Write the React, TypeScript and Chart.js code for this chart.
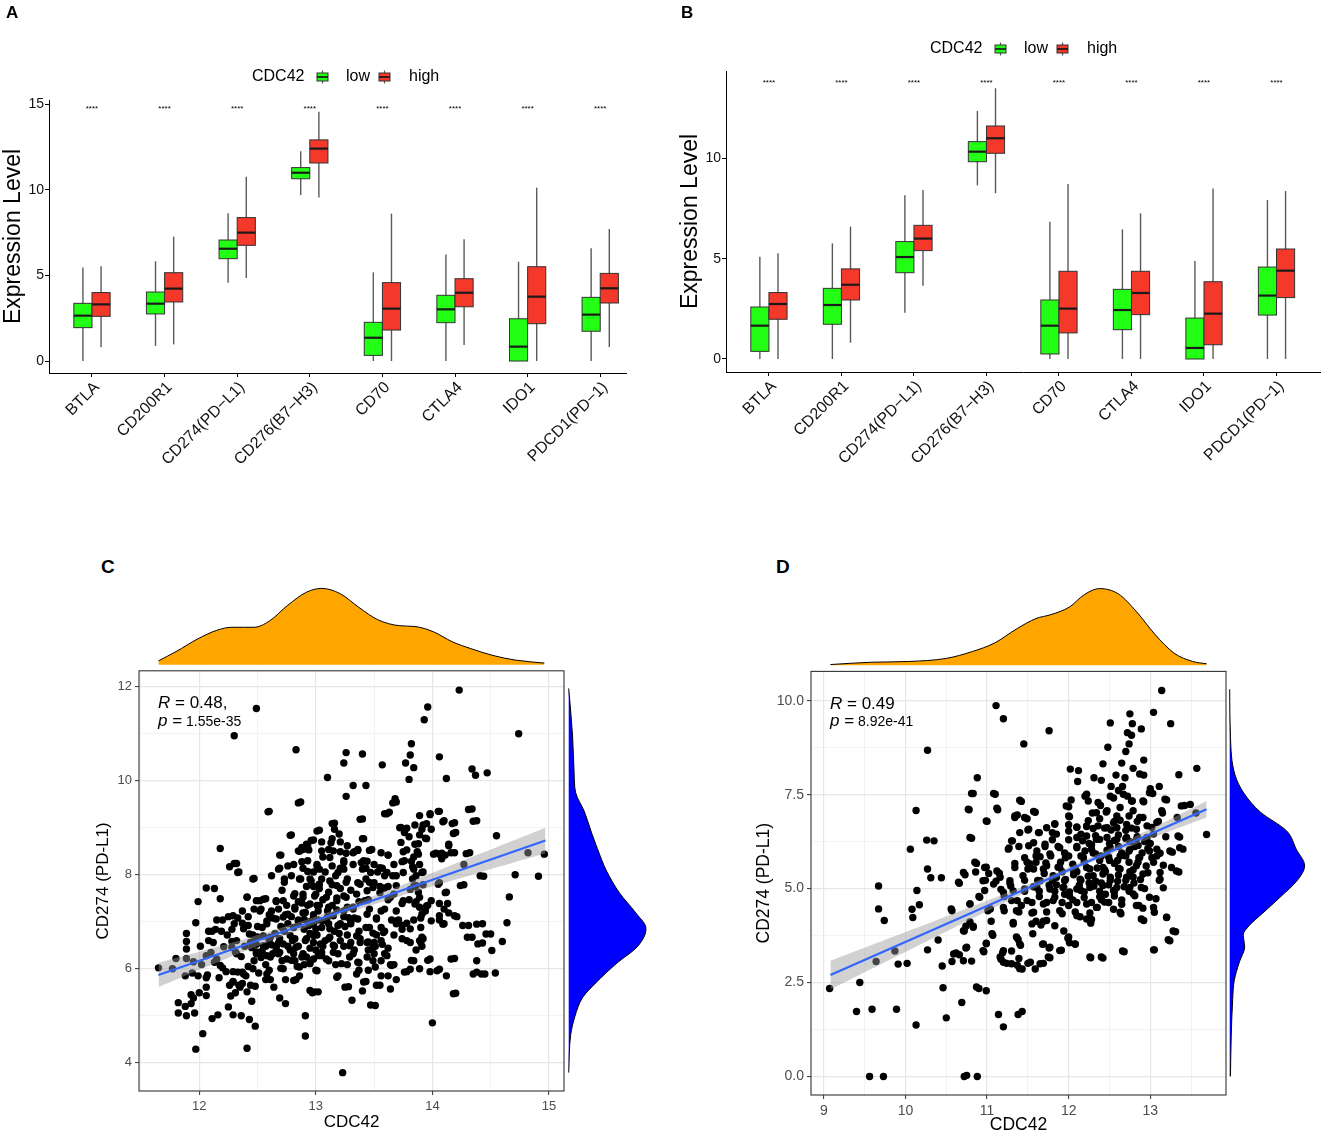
import React, { useEffect, useRef } from 'react';
import { Chart, registerables } from 'chart.js';

Chart.register(...registerables);

const FONT = '"Liberation Sans", Arial, Helvetica, sans-serif';
const LOW_COLOR = '#22FF14';
const HIGH_COLOR = '#F4382A';

// ---------------- Panels A & B ----------------
const categories = ['BTLA', 'CD200R1', 'CD274(PD\u2212L1)', 'CD276(B7\u2212H3)', 'CD70', 'CTLA4', 'IDO1', 'PDCD1(PD\u22121)'];
const sigLabels = ['****', '****', '****', '****', '****', '****', '****', '****'];
const categoryTicks = [0, 1, 2, 3, 4, 5, 6, 7];
const aYTicks = [0, 5, 10, 15];
const bYTicks = [0, 5, 10];

// Panel A (low / high CDC42): whisker min, Q1, median, Q3, whisker max
const aLowMin = [0, 0.88, 4.58, 9.7, 0, 0, 0, 0];
const aLowQ1 = [1.95, 2.75, 5.98, 10.65, 0.33, 2.24, 0, 1.74];
const aLowMed = [2.65, 3.35, 6.56, 11.0, 1.36, 3.02, 0.84, 2.71];
const aLowQ3 = [3.37, 4.03, 7.07, 11.3, 2.26, 3.84, 2.47, 3.72];
const aLowMax = [5.47, 5.83, 8.63, 12.25, 5.18, 6.23, 5.8, 6.59];
const aHighMin = [0.8, 0.97, 4.85, 9.55, 0, 0.94, 0, 0.82];
const aHighQ1 = [2.61, 3.45, 6.76, 11.57, 1.81, 3.17, 2.18, 3.39];
const aHighMed = [3.31, 4.23, 7.5, 12.41, 3.06, 3.99, 3.76, 4.25];
const aHighQ3 = [4.0, 5.16, 8.38, 12.92, 4.58, 4.81, 5.51, 5.12];
const aHighMax = [5.53, 7.27, 10.77, 14.57, 8.61, 7.11, 10.13, 7.71];

// Panel B
const bLowMin = [0, 0, 2.31, 8.65, 0, 0, 0, 0];
const bLowQ1 = [0.38, 1.73, 4.3, 9.83, 0.25, 1.46, 0, 2.19];
const bLowMed = [1.66, 2.69, 5.08, 10.33, 1.66, 2.44, 0.55, 3.16];
const bLowQ3 = [2.59, 3.52, 5.85, 10.83, 2.94, 3.47, 2.04, 4.58];
const bLowMax = [5.1, 5.76, 8.16, 12.36, 6.84, 6.46, 4.88, 7.92];
const bHighMin = [0, 0.81, 3.65, 8.26, 0, 0, 0, 0];
const bHighQ1 = [1.98, 2.94, 5.4, 10.25, 1.3, 2.21, 0.71, 3.06];
const bHighMed = [2.74, 3.7, 6.0, 11.0, 2.51, 3.29, 2.26, 4.4];
const bHighQ3 = [3.31, 4.49, 6.66, 11.61, 4.37, 4.37, 3.85, 5.48];
const bHighMax = [5.27, 6.6, 8.42, 13.49, 8.72, 7.26, 8.5, 8.37];

const aSigY = 14.6;
const bSigY = 13.65;

// ---------------- Panel C ----------------
const cPts: [number, number][] = [
  [14.23, 11.93], [12.49, 11.54], [13.96, 11.57], [13.93, 11.3], [12.3, 10.96], [14.74, 11.0], [12.83, 10.66], [13.26, 10.6],
  [13.4, 10.57], [13.24, 10.38], [13.82, 10.79], [13.81, 10.55], [13.77, 10.38], [13.84, 10.28], [13.57, 10.34], [14.06, 10.51],
  [13.1, 10.07], [13.8, 10.03], [14.12, 10.05], [14.34, 10.25], [14.37, 10.12], [14.47, 10.17], [13.32, 9.9], [13.43, 9.9],
  [13.26, 9.67], [12.6, 9.35], [12.87, 9.55], [13.68, 9.62], [13.69, 9.55], [13.59, 9.3], [13.63, 9.33], [13.4, 9.19],
  [13.16, 9.1], [13.03, 8.95], [12.79, 8.85], [13.98, 9.28], [13.89, 9.26], [14.05, 9.35], [14.1, 9.15], [14.19, 9.11],
  [14.34, 9.4], [14.38, 9.15], [14.55, 8.83], [14.2, 8.9], [14.14, 8.62], [14.19, 8.47], [14.32, 8.47], [14.82, 8.47],
  [14.96, 8.44], [14.71, 8.0], [14.91, 7.97], [14.44, 7.97], [14.27, 7.79], [14.66, 7.53], [14.64, 6.98], [14.43, 6.96],
  [14.31, 6.92], [14.34, 6.67], [14.5, 6.74], [14.43, 6.55], [14.6, 6.58], [14.51, 6.39], [14.19, 6.22], [14.38, 6.17],
  [14.38, 5.93], [14.45, 5.89], [14.54, 5.91], [14.2, 5.48], [14.0, 4.85], [13.98, 6.21], [14.06, 5.99], [14.12, 5.85],
  [13.98, 5.94], [13.78, 5.94], [13.81, 5.99], [13.84, 6.17], [13.64, 6.09], [13.56, 5.85], [13.64, 5.57], [13.55, 5.65],
  [13.51, 5.22], [13.47, 5.23], [13.43, 5.73], [13.4, 5.53], [13.31, 5.33], [13.28, 5.62], [13.23, 3.79], [12.91, 5.0],
  [12.91, 4.57], [12.97, 5.49], [13.02, 5.51], [12.69, 5.38], [12.74, 5.26], [12.41, 4.31], [11.97, 4.29], [12.03, 4.62],
  [12.48, 4.78], [12.43, 4.92], [12.29, 5.02], [12.36, 5.0], [12.11, 4.94], [12.16, 5.02], [11.89, 5.0], [11.82, 5.06],
  [11.82, 5.28], [11.88, 5.2], [11.93, 5.26], [11.95, 5.38], [11.96, 5.06], [12.0, 5.49], [11.93, 5.45], [12.06, 5.43],
  [12.06, 5.61], [12.06, 5.81], [12.07, 5.87], [11.88, 5.85], [11.94, 5.91], [11.95, 6.15], [11.89, 6.22], [11.8, 6.22],
  [11.65, 6.02], [11.77, 6.0], [11.89, 6.42], [11.89, 6.58], [11.89, 6.75], [11.97, 6.98], [11.99, 7.43], [12.06, 7.72],
  [12.13, 7.71], [12.08, 6.8], [12.01, 6.48], [12.08, 6.6], [12.18, 7.49], [12.18, 8.56], [12.26, 8.17], [12.32, 8.24],
  [12.34, 8.06], [12.47, 7.92], [12.41, 7.53], [12.52, 7.45], [12.57, 7.49], [12.51, 5.91], [12.48, 5.63], [12.44, 5.65],
  [12.4, 5.85], [12.45, 5.31], [12.27, 5.42], [12.26, 5.65], [12.29, 5.73], [12.31, 5.49], [12.25, 5.19], [12.34, 5.65],
  [12.37, 5.69], [12.17, 5.81], [12.18, 6.07], [12.13, 6.14], [12.1, 6.35], [12.15, 6.21], [12.2, 6.02], [12.23, 5.94],
  [12.29, 5.94], [12.33, 5.93], [12.36, 6.26], [12.31, 6.36], [12.39, 6.48], [12.21, 6.47], [12.28, 6.58], [12.24, 6.72],
  [12.19, 6.8], [12.14, 6.84], [12.11, 6.8], [12.15, 7.04], [12.25, 7.11], [12.3, 6.96], [12.37, 6.97], [12.42, 6.92],
  [12.46, 6.72], [12.5, 6.68], [12.54, 6.88], [12.58, 6.96], [12.6, 6.6], [12.49, 6.36], [12.54, 6.38], [12.57, 6.48],
  [12.62, 6.51], [12.6, 5.97], [12.61, 5.77], [12.71, 6.17], [12.7, 6.01], [12.75, 6.21], [12.74, 5.77], [12.83, 5.77],
  [12.86, 5.85], [12.84, 6.05], [12.9, 6.09], [12.95, 6.13], [13.0, 5.97], [12.98, 6.21], [13.05, 6.28], [13.11, 6.17],
  [13.17, 6.09], [13.19, 5.85], [13.27, 6.09], [13.32, 6.32], [13.37, 6.13], [13.37, 5.97], [13.45, 5.97], [13.49, 6.17],
  [13.51, 6.48], [13.57, 6.52], [13.62, 6.44], [13.59, 6.32], [13.5, 6.56], [13.44, 6.56], [13.49, 6.76], [13.43, 6.88],
  [13.59, 6.8], [13.67, 6.72], [13.67, 6.09], [13.71, 7.04], [13.78, 6.97], [13.74, 6.64], [13.84, 7.04], [13.9, 6.88],
  [13.9, 6.56], [13.92, 6.64], [13.9, 7.08], [13.94, 7.23], [13.96, 7.35], [13.89, 7.31], [13.86, 7.43], [13.8, 7.47],
  [13.88, 7.63], [13.84, 7.75], [13.92, 7.79], [14.06, 7.83], [14.12, 7.63], [14.13, 7.39], [14.06, 7.39], [14.1, 7.27],
  [14.14, 7.19], [14.21, 7.11], [14.06, 7.04], [14.1, 6.96], [13.86, 7.98], [13.83, 8.17], [13.92, 8.06], [13.84, 8.38],
  [13.76, 8.3], [13.75, 8.49], [13.73, 8.69], [13.8, 8.81], [13.73, 9.01], [13.78, 8.99], [13.87, 8.49], [13.88, 8.66],
  [13.95, 8.77], [13.91, 8.97], [13.95, 9.09], [13.99, 8.97], [14.03, 8.46], [14.08, 8.46], [14.11, 8.42], [14.08, 8.34],
  [14.27, 8.22], [13.67, 8.22], [13.62, 8.42], [13.57, 8.14], [13.53, 8.06], [13.59, 7.98], [13.5, 8.22], [13.41, 8.3],
  [13.48, 8.54], [13.41, 8.77], [13.36, 8.54], [13.33, 8.49], [13.43, 8.14], [13.43, 7.91], [13.5, 7.83], [13.55, 7.75],
  [13.62, 7.75], [13.69, 7.98], [13.67, 7.59], [13.62, 7.47], [13.59, 7.27], [13.69, 7.23], [13.74, 7.39], [13.52, 7.08],
  [13.46, 7.27], [13.45, 7.47], [13.37, 7.43], [13.32, 7.27], [13.33, 7.08], [13.3, 6.96], [13.27, 6.72], [13.3, 6.56],
  [13.24, 6.48], [13.19, 6.32], [13.16, 6.48], [13.11, 6.64], [13.16, 6.8], [13.21, 6.96], [13.24, 7.11], [13.27, 7.31],
  [13.24, 7.55], [13.3, 7.67], [13.36, 7.83], [13.27, 7.91], [13.21, 7.71], [13.18, 7.51], [13.14, 7.35], [13.1, 7.23],
  [13.08, 7.04], [13.05, 6.88], [13.01, 6.72], [12.98, 6.56], [12.95, 6.44], [12.92, 6.64], [12.9, 6.84], [12.95, 7.0],
  [12.98, 7.15], [13.01, 7.35], [13.06, 7.47], [13.11, 7.63], [13.14, 7.79], [13.17, 7.98], [13.21, 8.14], [13.24, 8.3],
  [13.26, 8.46], [13.27, 8.62], [13.21, 8.7], [13.14, 8.77], [13.16, 8.97], [13.11, 8.54], [13.06, 8.38], [13.01, 8.22],
  [12.98, 8.06], [12.95, 7.91], [12.92, 7.75], [12.89, 7.59], [12.85, 7.43], [12.82, 7.27], [12.79, 7.11], [12.76, 6.96],
  [12.73, 6.8], [12.69, 6.64], [12.66, 6.48], [12.63, 6.32], [12.76, 6.48], [12.81, 6.32], [12.85, 6.48], [12.82, 6.64],
  [12.81, 6.88], [12.85, 7.04], [12.74, 7.15], [12.68, 7.27], [12.63, 7.08], [12.66, 7.43], [12.71, 7.67], [12.73, 7.91],
  [12.79, 7.98], [12.81, 8.22], [12.69, 8.14], [12.7, 8.42], [12.86, 8.5], [12.89, 8.54], [12.93, 8.62], [12.98, 8.74],
  [12.93, 8.3], [12.89, 8.14], [12.87, 7.91], [12.98, 7.75], [13.05, 7.91], [13.08, 8.06], [13.03, 7.71], [13.0, 7.59],
  [12.93, 7.35], [12.89, 7.19], [13.02, 7.04], [13.11, 6.96], [13.0, 6.4], [13.06, 6.48], [12.82, 6.17], [12.89, 6.32],
  [12.68, 6.32], [12.57, 6.09], [12.58, 6.28], [12.53, 6.24], [12.49, 6.52], [12.44, 6.56], [12.47, 6.17], [12.42, 6.05],
  [12.37, 5.93], [12.57, 5.77], [12.64, 5.61], [12.53, 7.27], [12.47, 7.27], [12.42, 7.11], [12.37, 7.23], [12.33, 7.08],
  [12.28, 6.84], [12.2, 7.04], [12.12, 6.56], [12.06, 6.28], [12.02, 6.09], [11.99, 5.85], [13.37, 6.8], [13.38, 6.56],
  [13.45, 6.4], [13.33, 6.4], [13.5, 6.32], [13.56, 6.17], [13.62, 5.85], [13.69, 5.77], [13.56, 6.88], [13.52, 6.72],
  [13.65, 7.04], [13.69, 6.96], [13.74, 6.84], [13.81, 6.56], [13.86, 6.4], [13.91, 6.48],
  // dense core
  [12.59, 9.34], [12.85, 9.53], [13.14, 9.09], [13.38, 9.18], [13.61, 9.3], [13.66, 9.53], [12.78, 8.84], [13.01, 8.93],
  [13.2, 8.87], [13.4, 8.77], [13.05, 8.7], [13.13, 8.68], [12.96, 8.73], [12.92, 8.65], [12.88, 8.58], [12.85, 8.51],
  [12.94, 8.53], [13.05, 8.51], [13.15, 8.51], [13.21, 8.49], [13.32, 8.47], [13.36, 8.52], [13.46, 8.52], [13.56, 8.47],
  [13.62, 8.42], [13.72, 9.0], [13.76, 8.9], [13.85, 9.06], [13.92, 9.06], [13.89, 8.85], [13.94, 8.78], [13.85, 8.65],
  [13.78, 8.53], [13.88, 8.44], [13.98, 9.3], [14.06, 9.35], [14.09, 9.13], [14.17, 9.09], [14.18, 8.88], [14.14, 8.65],
  [14.01, 8.44], [14.06, 8.44], [14.16, 8.47], [14.31, 9.39], [14.35, 9.14], [14.29, 8.45], [12.69, 8.42], [12.76, 8.19],
  [12.68, 8.12], [12.88, 8.28], [12.93, 8.07], [13.01, 8.19], [13.03, 8.12], [13.12, 8.37], [13.14, 8.19], [13.19, 8.05],
  [13.24, 8.26], [13.24, 8.12], [13.32, 8.22], [13.39, 8.26], [13.44, 8.29], [13.4, 8.12], [13.47, 8.05], [13.55, 8.15],
  [13.61, 8.05], [13.66, 7.98], [13.74, 8.28], [13.82, 8.29], [13.89, 8.22], [13.84, 8.12], [13.91, 8.05], [13.75, 8.05],
  [13.83, 7.91], [12.46, 7.91], [12.33, 8.05], [12.3, 8.24], [12.62, 7.98], [12.73, 7.84], [12.86, 7.91], [12.96, 7.87],
  [13.03, 7.8], [13.12, 7.87], [13.18, 7.77], [13.26, 7.84], [13.38, 7.8], [13.46, 7.84], [13.49, 7.73], [13.59, 7.72],
  [13.69, 7.77], [13.81, 7.69], [13.86, 7.77], [13.89, 7.52], [13.75, 7.45], [13.64, 7.52], [13.55, 7.62], [13.44, 7.66],
  [13.35, 7.59], [13.26, 7.52], [13.18, 7.45], [13.09, 7.52], [12.99, 7.55], [12.89, 7.52], [12.81, 7.55], [12.72, 7.45],
  [12.66, 7.45], [12.55, 7.48], [12.49, 7.45], [12.41, 7.52], [14.05, 7.8], [14.11, 7.62], [14.24, 7.77], [14.41, 7.98],
  [13.99, 7.45], [12.29, 7.13], [12.38, 6.85], [12.43, 6.74], [12.52, 7.23], [12.58, 7.02], [12.62, 7.23], [12.66, 7.06],
  [12.71, 6.88], [12.76, 7.16], [12.82, 7.31], [12.85, 7.02], [12.91, 7.2], [12.95, 7.38], [12.94, 6.92], [12.98, 7.09],
  [13.02, 7.23], [13.06, 7.02], [13.11, 7.31], [13.15, 7.13], [13.19, 6.92], [13.24, 7.23], [13.28, 7.09], [13.32, 7.31],
  [13.36, 7.06], [13.42, 7.45], [13.44, 7.16], [13.46, 6.88], [13.52, 7.06], [13.56, 7.23], [13.69, 7.02], [13.74, 6.92],
  [13.81, 6.85], [13.85, 7.38], [13.95, 7.34], [13.91, 7.16], [13.99, 7.02], [14.06, 7.13], [14.09, 6.95], [14.19, 7.13],
  [14.26, 6.92], [14.38, 6.95], [13.91, 6.67], [13.89, 6.6], [13.78, 6.6], [13.58, 6.77], [13.56, 6.6], [13.49, 6.46],
  [13.45, 6.57], [13.38, 6.64], [13.29, 6.49], [13.21, 6.6], [13.12, 6.67], [13.04, 6.53], [12.98, 6.71], [12.91, 6.6],
  [12.83, 6.46], [12.78, 6.71], [12.72, 6.53], [12.66, 6.42], [12.61, 6.67], [12.55, 6.49], [12.48, 6.64], [12.32, 6.6],
  [12.28, 6.46], [14.3, 6.67], [14.39, 6.53], [14.46, 6.74], [12.32, 6.32], [12.49, 6.32], [12.61, 6.25], [12.69, 6.35],
  [12.79, 6.18], [12.88, 6.25], [12.95, 6.11], [13.02, 6.28], [13.09, 6.21], [13.15, 6.35], [13.22, 6.11], [13.29, 6.25],
  [13.36, 6.14], [13.44, 6.25], [13.51, 6.04], [13.61, 6.28], [13.65, 6.07], [13.76, 5.93], [13.82, 6.18], [13.89, 6.0],
  [13.96, 6.18], [14.04, 5.96], [14.16, 6.21], [14.35, 5.89], [14.42, 5.89], [12.38, 5.89], [12.46, 6.0], [12.58, 5.89],
  [12.72, 6.0], [12.81, 5.75], [12.86, 6.04], [13.01, 5.96], [13.18, 5.82], [13.25, 5.61], [13.35, 5.89], [13.41, 5.72],
  [13.52, 5.65], [12.95, 5.54], [12.99, 5.51], [14.18, 5.47], [12.29, 5.72], [12.35, 5.61], [12.41, 5.51],
  [12.7, 6.9], [12.8, 6.6], [12.9, 7.05], [13.0, 6.85], [13.1, 7.1], [13.2, 6.75], [13.05, 6.35], [12.95, 6.75],
  [12.85, 6.95], [12.75, 7.35], [12.65, 6.75], [12.6, 7.15], [13.15, 6.5], [13.25, 6.9], [12.92, 6.25], [13.12, 6.85],
  [12.88, 7.4], [12.78, 6.4], [12.55, 6.7], [12.98, 6.95], [13.08, 6.6], [13.18, 7.25], [12.72, 7.1], [12.82, 7.6],
  [13.03, 7.35], [12.68, 6.55], [12.5, 6.9], [12.45, 6.45], [13.3, 7.0], [13.35, 6.7],
];
const cTopX = [11.65, 11.8, 11.99, 12.15, 12.28, 12.38, 12.47, 12.6, 12.76, 12.92, 13.05, 13.21, 13.37, 13.53, 13.72, 13.85, 14.01, 14.17, 14.33, 14.52, 14.71, 14.96];
const cTopH = [0.05, 0.17, 0.34, 0.45, 0.49, 0.49, 0.49, 0.57, 0.78, 0.95, 1.0, 0.93, 0.75, 0.59, 0.51, 0.5, 0.43, 0.3, 0.21, 0.12, 0.06, 0.02];
const cRightY = [3.79, 4.58, 4.98, 5.38, 5.69, 6.09, 6.48, 6.84, 7.19, 7.59, 8.06, 8.54, 8.85, 9.33, 9.72, 10.13, 10.92, 11.93];
const cRightW = [0.0, 0.025, 0.08, 0.18, 0.35, 0.61, 0.9, 1.0, 0.86, 0.66, 0.49, 0.37, 0.3, 0.2, 0.09, 0.07, 0.05, 0.0];
const cFitX = [11.65, 14.97];
const cFitY = [5.87, 8.73];
const cBandX = [11.65, 12.2, 12.8, 13.2, 13.6, 14.2, 14.97];
const cBandLo = [5.61, 6.18, 6.77, 7.13, 7.45, 7.9, 8.46];
const cBandHi = [6.13, 6.5, 6.95, 7.29, 7.65, 8.24, 9.0];

// ---------------- Panel D ----------------
const dPts: [number, number][] = [
  [13.14, 10.27], [11.11, 9.87], [11.2, 9.52], [13.04, 9.69], [12.75, 9.65], [13.25, 9.39], [12.51, 9.41], [12.78, 9.39],
  [12.89, 9.25], [11.76, 9.2], [12.72, 9.15], [12.77, 9.08], [12.74, 8.85], [11.45, 8.85], [12.48, 8.76], [10.27, 8.68],
  [12.7, 8.65], [12.65, 8.34], [12.42, 8.32], [12.92, 8.42], [12.02, 8.18], [12.12, 8.14], [13.57, 8.2], [12.79, 8.2],
  [12.87, 8.05], [12.92, 8.02], [13.35, 8.03], [12.58, 8.02], [12.69, 7.95], [12.31, 7.95], [12.4, 7.88], [12.11, 7.85],
  [10.88, 7.95], [12.66, 7.72], [12.52, 7.72], [13.11, 7.72], [13.0, 7.66], [13.03, 7.53], [10.83, 7.53], [11.1, 7.51],
  [12.22, 7.51], [12.61, 7.61], [12.72, 7.46], [12.55, 7.41], [12.78, 7.33], [12.92, 7.31], [13.2, 7.36], [11.42, 7.32],
  [12.03, 7.36], [12.24, 7.33], [13.42, 7.21], [12.39, 7.21], [12.63, 7.16], [12.0, 7.18], [10.13, 7.08], [10.78, 7.1],
  [11.13, 7.1], [13.15, 7.01], [13.56, 7.01], [12.29, 7.01], [12.46, 7.04], [11.59, 7.03], [12.01, 6.91], [12.74, 6.93],
  [12.91, 6.89], [13.33, 6.89], [11.34, 6.89], [11.37, 6.96], [11.49, 6.86], [11.0, 6.79], [12.56, 6.79], [13.1, 6.79],
  [11.83, 6.73], [12.1, 6.63], [12.22, 6.65], [12.44, 6.61], [12.77, 6.61], [13.02, 6.63], [10.26, 6.29], [10.35, 6.27],
  [10.81, 6.34], [13.69, 6.44], [13.36, 6.37], [13.19, 6.38], [11.31, 6.27], [11.5, 6.56], [11.64, 6.49], [11.8, 6.49],
  [12.0, 6.53], [13.4, 6.05], [13.27, 5.97], [10.06, 6.05], [11.27, 6.08], [11.39, 6.12], [11.57, 6.22], [11.71, 6.12],
  [11.87, 6.12], [12.1, 6.12], [12.28, 6.17], [12.61, 6.12], [12.81, 6.12], [12.97, 6.07], [13.12, 5.94], [13.02, 5.82],
  [12.86, 5.82], [12.7, 5.87], [12.49, 5.84], [12.33, 5.92], [12.15, 5.87], [11.96, 5.82], [11.78, 5.87], [11.6, 5.87],
  [11.46, 5.82], [11.34, 5.67], [10.87, 5.67], [10.99, 5.57], [10.27, 5.52], [13.16, 5.62], [13.35, 5.44], [11.5, 5.52],
  [11.69, 5.52], [11.87, 5.57], [12.08, 5.54], [12.26, 5.52], [12.44, 5.5], [12.61, 5.54], [12.79, 5.5], [12.97, 5.42],
  [10.73, 5.37], [10.86, 5.44], [11.02, 5.4], [11.15, 5.41], [10.31, 5.29], [10.44, 5.29], [11.11, 5.2], [10.98, 5.22],
  [10.66, 5.14], [11.28, 5.14], [11.46, 5.22], [11.62, 5.22], [11.8, 5.22], [11.96, 5.24], [12.15, 5.22], [12.33, 5.2],
  [12.51, 5.22], [12.7, 5.22], [12.88, 5.24], [13.11, 5.22], [13.16, 5.02], [9.67, 5.07], [10.14, 4.95], [10.97, 4.95],
  [11.17, 4.98], [11.29, 5.07], [12.93, 5.0], [11.46, 4.93], [11.64, 4.93], [11.83, 4.93], [12.01, 4.91], [12.19, 4.91],
  [12.38, 4.93], [12.56, 4.91], [12.74, 4.93], [12.81, 4.81], [10.9, 4.79], [11.21, 4.79], [11.37, 4.68], [11.55, 4.63],
  [11.73, 4.63], [11.92, 4.63], [12.1, 4.63], [12.28, 4.63], [12.49, 4.63], [12.65, 4.58], [12.86, 4.55], [13.07, 4.73],
  [10.17, 4.57], [10.79, 4.59], [9.67, 4.46], [10.08, 4.45], [10.57, 4.41], [11.01, 4.41], [12.91, 4.48], [12.64, 4.33],
  [13.05, 4.37], [13.2, 4.23], [12.26, 4.35], [12.08, 4.38], [11.92, 4.33], [11.73, 4.38], [11.55, 4.35], [11.39, 4.38],
  [11.21, 4.41], [10.09, 4.23], [12.14, 4.25], [12.28, 4.18], [12.27, 4.08], [9.74, 4.15], [12.92, 4.15], [11.6, 4.13],
  [11.69, 4.13], [11.73, 4.15], [11.05, 4.13], [10.79, 4.11], [10.74, 4.0], [10.83, 4.0], [11.32, 4.06], [11.66, 4.03],
  [11.83, 4.01], [13.31, 3.85], [10.72, 3.87], [11.56, 3.8], [11.94, 3.87], [11.07, 3.76], [10.4, 3.63], [11.38, 3.65],
  [13.24, 3.61], [11.99, 3.68], [10.99, 3.55], [12.01, 3.56], [12.08, 3.52], [11.41, 3.49], [11.68, 3.52], [11.76, 3.42],
  [10.74, 3.42], [10.27, 3.37], [13.05, 3.37], [10.96, 3.32], [12.68, 3.32], [11.91, 3.36], [9.87, 3.34], [10.62, 3.29],
  [10.66, 3.24], [11.19, 3.29], [11.3, 3.34], [11.17, 3.12], [11.39, 3.14], [12.27, 3.16], [12.42, 3.15], [11.77, 3.16],
  [9.64, 3.06], [10.02, 3.01], [9.91, 2.99], [10.57, 3.06], [10.71, 3.08], [10.81, 3.07], [11.24, 3.01], [11.5, 3.01],
  [11.69, 3.01], [10.45, 2.94], [11.37, 2.96], [11.43, 2.86], [11.59, 2.86], [9.07, 2.34], [9.44, 2.5], [10.46, 2.36],
  [10.9, 2.34], [10.99, 2.28], [10.69, 1.97], [9.4, 1.73], [9.59, 1.79], [9.89, 1.79], [10.5, 1.56], [11.14, 1.65],
  [11.38, 1.65], [11.43, 1.73], [10.13, 1.37], [11.2, 1.32], [9.56, 0.0], [9.73, 0.0], [10.72, 0.0], [10.75, 0.03],
  [10.88, 0.0], [12.33, 6.41], [12.61, 6.43], [12.84, 6.38], [12.19, 5.71], [12.38, 5.75], [12.56, 5.67], [12.74, 5.7],
  [12.06, 5.37], [12.24, 5.33], [12.42, 5.39], [12.61, 5.36], [12.79, 5.31], [12.31, 5.07], [12.49, 5.1], [12.68, 5.05],
  [12.13, 5.09], [11.94, 5.04], [11.76, 5.09], [11.57, 5.05], [12.38, 4.78], [12.56, 4.8], [12.19, 4.76], [12.01, 4.8],
  [11.83, 4.77], [11.64, 4.79], [12.47, 6.02], [12.74, 6.0], [12.38, 6.31], [12.56, 6.28], [12.7, 6.33], [12.24, 6.81],
  [12.38, 6.86], [12.63, 6.82], [12.84, 6.79], [11.95, 5.95], [11.52, 5.66], [11.72, 5.68], [11.92, 5.45], [12.17, 6.27],
  [12.52, 6.56], [12.93, 6.25], [13.08, 6.05], [12.35, 4.5], [12.55, 4.45], [11.85, 5.3], [12.0, 6.3], [11.42, 4.55],
  // dense core
  [10.81, 7.53], [11.08, 7.53], [11.4, 7.35], [10.77, 7.11], [11.12, 7.14], [10.99, 6.8], [11.34, 6.93], [11.46, 6.89],
  [11.57, 7.05], [10.79, 6.36], [11.4, 6.49], [11.51, 6.58], [11.63, 6.49], [11.73, 6.62], [11.83, 6.71], [11.85, 6.45],
  [11.97, 7.2], [12.0, 6.93], [12.1, 6.64], [12.2, 7.46], [12.22, 6.67], [12.34, 7.02], [12.36, 7.29], [12.47, 7.07],
  [12.51, 7.46], [12.59, 6.93], [12.67, 7.51], [12.77, 7.33], [12.79, 7.07], [12.87, 6.89], [12.91, 7.33], [12.99, 7.55],
  [13.14, 7.07], [13.18, 7.38], [13.38, 7.2], [13.49, 7.24], [12.36, 6.67], [12.47, 6.62], [12.59, 6.62], [12.71, 6.71],
  [12.83, 6.58], [12.96, 6.67], [13.08, 6.76], [13.34, 6.4], [12.1, 6.36], [12.22, 6.4], [12.34, 6.31], [12.47, 6.36],
  [12.59, 6.31], [12.71, 6.36], [12.83, 6.31], [12.96, 6.36], [13.04, 6.45], [11.3, 6.27], [11.26, 6.05], [11.51, 6.14],
  [11.61, 6.0], [11.71, 6.18], [11.77, 5.92], [11.89, 6.09], [12.0, 5.87], [12.1, 6.09], [12.18, 5.83], [12.28, 6.05],
  [12.4, 5.87], [12.51, 6.09], [12.63, 5.87], [12.75, 6.05], [12.87, 5.83], [12.99, 6.0], [13.08, 5.87], [13.24, 6.0],
  [13.36, 6.09], [10.85, 5.7], [10.97, 5.56], [10.71, 5.43], [10.65, 5.17], [10.95, 5.21], [11.12, 5.47], [11.16, 5.3],
  [11.08, 5.12], [11.28, 5.21], [11.34, 5.56], [11.49, 5.7], [11.44, 5.34], [11.57, 5.52], [11.65, 5.21], [11.73, 5.61],
  [11.81, 5.34], [11.89, 5.56], [11.95, 5.21], [12.06, 5.47], [12.14, 5.25], [12.22, 5.56], [12.3, 5.34], [12.42, 5.56],
  [12.51, 5.3], [12.63, 5.52], [12.71, 5.3], [12.83, 5.61], [12.91, 5.39], [13.04, 5.7], [13.12, 5.43], [13.26, 5.56],
  [13.32, 5.47], [13.12, 5.25], [12.89, 5.03], [12.75, 5.03], [12.59, 5.03], [12.42, 5.08], [12.26, 5.03], [12.1, 4.99],
  [11.93, 5.03], [11.77, 4.99], [11.61, 5.03], [11.46, 4.99], [11.32, 4.94], [11.2, 4.9], [10.56, 4.46], [10.79, 4.59],
  [10.91, 4.77], [11.04, 4.46], [11.2, 4.5], [11.3, 4.68], [11.36, 4.41], [11.49, 4.68], [11.57, 4.37], [11.69, 4.59],
  [11.81, 4.68], [11.89, 4.41], [12.0, 4.55], [12.1, 4.28], [12.22, 4.59], [12.34, 4.5], [12.44, 4.64], [12.63, 4.37],
  [12.79, 4.86], [12.83, 4.55], [12.99, 4.77], [13.04, 4.5], [12.89, 4.19], [13.2, 4.24], [12.22, 4.19], [11.55, 4.06],
  [11.32, 4.1], [11.06, 3.8], [10.83, 3.97], [10.71, 3.88], [10.59, 3.26], [10.75, 3.44], [10.95, 3.35], [10.99, 3.53],
  [11.2, 3.35], [11.16, 3.18], [11.36, 3.71], [11.4, 3.53], [11.69, 3.53], [11.77, 3.44], [11.89, 3.35], [12.0, 3.71],
  [12.08, 3.53], [12.26, 3.18], [12.4, 3.18], [12.66, 3.34], [13.04, 3.37], [13.22, 3.64], [13.28, 3.87], [11.2, 3.04],
  [11.3, 3.0], [11.4, 2.87], [11.53, 3.04], [11.65, 3.0], [11.75, 3.18], [10.87, 2.38],
  [12.05, 5.65], [12.15, 6.45], [12.25, 5.15], [12.3, 5.95], [12.45, 5.45], [12.5, 6.2], [12.55, 4.95], [12.65, 5.95],
  [12.7, 6.55], [12.8, 5.15], [12.85, 6.15], [12.95, 5.6], [12.2, 6.0], [12.35, 5.55], [12.45, 4.85], [12.6, 5.75],
  [12.75, 5.45], [12.9, 5.95], [11.9, 5.7], [11.8, 6.3], [11.7, 5.4], [11.65, 5.85], [12.0, 6.7], [12.3, 6.6],
  [12.55, 6.75], [12.15, 4.95], [12.05, 4.7], [12.4, 4.7], [12.65, 4.7], [11.95, 4.85], [12.25, 6.2], [12.4, 5.15],
  [12.6, 5.2], [12.85, 5.7], [13.0, 6.2], [12.1, 5.45], [11.85, 5.1], [11.6, 5.7], [12.75, 6.25], [12.5, 5.75],
];
const dTopX = [9.08, 9.58, 10.04, 10.5, 10.82, 11.09, 11.37, 11.6, 11.78, 12.01, 12.19, 12.38, 12.61, 12.83, 13.06, 13.29, 13.52, 13.69];
const dTopH = [0.01, 0.04, 0.05, 0.09, 0.18, 0.29, 0.48, 0.61, 0.66, 0.76, 0.92, 1.0, 0.93, 0.7, 0.4, 0.16, 0.05, 0.02];
const dRightY = [0.0, 1.05, 2.05, 2.54, 3.04, 3.44, 3.75, 4.0, 4.33, 4.73, 5.22, 5.59, 6.02, 6.51, 7.01, 7.51, 8.0, 9.0, 10.27];
const dRightW = [0.01, 0.02, 0.04, 0.06, 0.13, 0.2, 0.18, 0.26, 0.44, 0.66, 0.91, 1.0, 0.89, 0.76, 0.41, 0.19, 0.07, 0.01, 0.0];
const dFitX = [9.08, 13.69];
const dFitY = [2.7, 7.11];
const dBandX = [9.08, 9.8, 10.5, 11.2, 11.9, 12.5, 13.1, 13.69];
const dBandLo = [2.32, 3.1, 3.86, 4.61, 5.33, 5.9, 6.41, 6.89];
const dBandHi = [3.08, 3.68, 4.26, 4.85, 5.47, 6.06, 6.69, 7.33];

// ---------------- helpers ----------------
type BoxSet = { min: number[]; q1: number[]; med: number[]; q3: number[]; max: number[]; color: string; offset: number };

function drawKey(ctx: CanvasRenderingContext2D, cx: number, cy: number, color: string) {
  ctx.strokeStyle = '#555';
  ctx.lineWidth = 1.2;
  ctx.beginPath();
  ctx.moveTo(cx, cy - 6.5);
  ctx.lineTo(cx, cy + 6.5);
  ctx.stroke();
  ctx.fillStyle = color;
  ctx.fillRect(cx - 5.5, cy - 4, 11, 8);
  ctx.strokeStyle = '#333';
  ctx.lineWidth = 1;
  ctx.strokeRect(cx - 5.5, cy - 4, 11, 8);
  ctx.lineWidth = 1.6;
  ctx.strokeStyle = '#111';
  ctx.beginPath();
  ctx.moveTo(cx - 5.5, cy);
  ctx.lineTo(cx + 5.5, cy);
  ctx.stroke();
}

function makeBoxPlugin(sets: BoxSet[], sigY: number, legendLeft: number, legendY: number) {
  return {
    id: 'boxPlot',
    afterDatasetsDraw(chart: any) {
      const { ctx } = chart;
      const xs = chart.scales.x;
      const ys = chart.scales.y;
      const halfW = 0.125;
      ctx.save();
      sets.forEach((s) => {
        s.med.forEach((_m, i) => {
          const c = i + s.offset;
          const xc = xs.getPixelForValue(c);
          const xl = xs.getPixelForValue(c - halfW);
          const xr = xs.getPixelForValue(c + halfW);
          const yMin = ys.getPixelForValue(s.min[i]);
          const yQ1 = ys.getPixelForValue(s.q1[i]);
          const yMed = ys.getPixelForValue(s.med[i]);
          const yQ3 = ys.getPixelForValue(s.q3[i]);
          const yMax = ys.getPixelForValue(s.max[i]);
          ctx.strokeStyle = '#5a5a5a';
          ctx.lineWidth = 1.4;
          ctx.beginPath();
          ctx.moveTo(xc, yMax);
          ctx.lineTo(xc, yMin);
          ctx.stroke();
          ctx.fillStyle = s.color;
          ctx.fillRect(xl, yQ3, xr - xl, yQ1 - yQ3);
          ctx.strokeStyle = '#333';
          ctx.lineWidth = 1;
          ctx.strokeRect(xl, yQ3, xr - xl, yQ1 - yQ3);
          ctx.strokeStyle = '#1a1a1a';
          ctx.lineWidth = 2.2;
          ctx.beginPath();
          ctx.moveTo(xl, yMed);
          ctx.lineTo(xr, yMed);
          ctx.stroke();
        });
      });
      ctx.fillStyle = '#000';
      ctx.font = `8px ${FONT}`;
      ctx.textAlign = 'center';
      ctx.textBaseline = 'alphabetic';
      sigLabels.forEach((t, i) => {
        ctx.fillText(t, xs.getPixelForValue(i), ys.getPixelForValue(sigY));
      });
      ctx.restore();
    },
    afterDraw(chart: any) {
      const { ctx } = chart;
      ctx.save();
      ctx.font = `16px ${FONT}`;
      ctx.fillStyle = '#000';
      ctx.textAlign = 'left';
      ctx.textBaseline = 'middle';
      ctx.fillText('CDC42', legendLeft, legendY);
      drawKey(ctx, legendLeft + 70.5, legendY, LOW_COLOR);
      ctx.fillStyle = '#000';
      ctx.fillText('low', legendLeft + 94, legendY);
      drawKey(ctx, legendLeft + 132.5, legendY, HIGH_COLOR);
      ctx.fillStyle = '#000';
      ctx.fillText('high', legendLeft + 157, legendY);
      ctx.restore();
    },
  };
}

function boxConfig(opts: {
  sets: BoxSet[]; sigY: number; legendLeft: number; legendY: number; yTicks: number[];
  xMin: number; xMax: number; yMin: number; yMax: number; padding: any; yWidth: number;
}) {
  const axisGrid = { display: true, drawOnChartArea: false, drawTicks: true, tickLength: 4, tickColor: '#000', tickWidth: 1 };
  return {
    type: 'scatter' as const,
    data: {
      datasets: opts.sets.map((s) => ({
        data: s.med.map((m, i) => ({ x: i + s.offset, y: m })),
        pointRadius: 0,
        pointHoverRadius: 0,
      })),
    },
    options: {
      responsive: false,
      animation: false as const,
      events: [],
      layout: { padding: opts.padding },
      plugins: { legend: { display: false }, tooltip: { enabled: false } },
      scales: {
        x: {
          type: 'linear' as const,
          min: opts.xMin,
          max: opts.xMax,
          afterFit: (s: any) => { s.height = 100; },
          afterBuildTicks: (s: any) => { s.ticks = categoryTicks.map((v) => ({ value: v })); },
          ticks: {
            autoSkip: false, maxRotation: 45, minRotation: 45, labelOffset: 5,
            font: { family: FONT, size: 16 }, color: '#111', padding: 1,
            callback: (v: any) => categories[Math.round(v)] ?? '',
          },
          grid: axisGrid,
          border: { display: true, color: '#000', width: 1 },
        },
        y: {
          type: 'linear' as const,
          min: opts.yMin,
          max: opts.yMax,
          afterFit: (s: any) => { s.width = opts.yWidth; },
          afterBuildTicks: (s: any) => { s.ticks = opts.yTicks.map((v) => ({ value: v })); },
          ticks: { autoSkip: false, font: { family: FONT, size: 14 }, color: '#111', padding: 1, callback: (v: any) => String(v) },
          grid: axisGrid,
          border: { display: true, color: '#000', width: 1 },
          title: { display: true, text: 'Expression Level', font: { family: FONT, size: 23 }, color: '#000', padding: { top: 0, bottom: 0 } },
        },
      },
    },
    plugins: [makeBoxPlugin(opts.sets, opts.sigY, opts.legendLeft, opts.legendY)],
  };
}

function makeCorPlugin(rText: string, pText: string) {
  return {
    id: 'corText',
    afterDraw(chart: any) {
      const { ctx, chartArea } = chart;
      ctx.save();
      ctx.fillStyle = '#000';
      ctx.textAlign = 'left';
      ctx.textBaseline = 'alphabetic';
      let x = chartArea.left + 19;
      const y1 = chartArea.top + 37.5;
      const y2 = chartArea.top + 54.8;
      ctx.font = `italic 17px ${FONT}`;
      ctx.fillText('R', x, y1);
      x += ctx.measureText('R').width;
      ctx.font = `17px ${FONT}`;
      ctx.fillText(' = ' + rText, x, y1);
      x = chartArea.left + 19;
      ctx.font = `italic 17px ${FONT}`;
      ctx.fillText('p', x, y2);
      x += ctx.measureText('p').width;
      ctx.font = `17px ${FONT}`;
      ctx.fillText(' =', x, y2);
      x += ctx.measureText(' =').width;
      ctx.font = `14px ${FONT}`;
      ctx.fillText(' ' + pText, x, y2);
      ctx.restore();
    },
  };
}

const frameBorder = {
  id: 'frameBorder',
  afterDraw(chart: any) {
    const { ctx, chartArea } = chart;
    ctx.save();
    ctx.strokeStyle = '#333';
    ctx.lineWidth = 1.1;
    ctx.strokeRect(chartArea.left, chartArea.top, chartArea.right - chartArea.left, chartArea.bottom - chartArea.top);
    ctx.restore();
  },
};

const near = (v: number, step: number) => Math.abs(v / step - Math.round(v / step)) < 1e-6;

function scatterConfig(o: {
  pts: [number, number][]; fitX: number[]; fitY: number[]; bandX: number[]; bandLo: number[]; bandHi: number[];
  xMin: number; xMax: number; yMin: number; yMax: number; xStep: number; xMajor: number; yStep: number; yMajor: number;
  yFmt: (v: number) => string; padding: any; yWidth: number; xHeight: number; tickSize: number; titleSize: number;
  yTitlePad: number; xTitlePad: number; rText: string; pText: string;
}) {
  const gridFor = (major: number) => ({
    display: true,
    drawOnChartArea: true,
    drawTicks: true,
    tickLength: 4,
    color: (c: any) => (near(c.tick.value, major) ? '#E6E6E6' : '#F0F0F0'),
    lineWidth: (c: any) => (near(c.tick.value, major) ? 1.2 : 0.8),
    tickColor: (c: any) => (near(c.tick.value, major) ? '#333' : 'rgba(0,0,0,0)'),
    tickWidth: 1,
  });
  return {
    type: 'scatter' as const,
    data: {
      datasets: [
        {
          type: 'line' as const,
          data: o.fitX.map((x, i) => ({ x, y: o.fitY[i] })),
          borderColor: '#3366FF', borderWidth: 2.2, pointRadius: 0, fill: false, order: 1,
        },
        {
          type: 'line' as const,
          data: o.bandX.map((x, i) => ({ x, y: o.bandLo[i] })),
          borderWidth: 0, borderColor: 'rgba(0,0,0,0)', pointRadius: 0, fill: false, tension: 0.4, order: 2,
        },
        {
          type: 'line' as const,
          data: o.bandX.map((x, i) => ({ x, y: o.bandHi[i] })),
          borderWidth: 0, borderColor: 'rgba(0,0,0,0)', pointRadius: 0, fill: 1,
          backgroundColor: 'rgba(153,153,153,0.45)', tension: 0.4, order: 2,
        },
        {
          data: o.pts.map(([x, y]) => ({ x, y })),
          pointRadius: 3.7, pointBackgroundColor: '#000', pointBorderWidth: 0, pointHoverRadius: 3.7, order: 3,
        },
      ],
    },
    options: {
      responsive: false,
      animation: false as const,
      events: [],
      layout: { padding: o.padding },
      plugins: { legend: { display: false }, tooltip: { enabled: false } },
      scales: {
        x: {
          type: 'linear' as const,
          min: o.xMin, max: o.xMax,
          afterFit: (s: any) => { s.height = o.xHeight; },
          ticks: {
            stepSize: o.xStep, autoSkip: false, includeBounds: false, maxRotation: 0, minRotation: 0,
            font: { family: FONT, size: o.tickSize }, color: '#4D4D4D', padding: 4,
            callback: (v: any) => (near(v, o.xMajor) ? String(Math.round(v)) : ''),
          },
          grid: gridFor(o.xMajor),
          border: { display: false },
          title: { display: true, text: 'CDC42', font: { family: FONT, size: o.titleSize }, color: '#000', padding: { top: 0, bottom: o.xTitlePad } },
        },
        y: {
          type: 'linear' as const,
          min: o.yMin, max: o.yMax,
          afterFit: (s: any) => { s.width = o.yWidth; },
          ticks: {
            stepSize: o.yStep, autoSkip: false, includeBounds: false,
            font: { family: FONT, size: o.tickSize }, color: '#4D4D4D', padding: 3,
            callback: (v: any) => (near(v, o.yMajor) ? o.yFmt(v) : ''),
          },
          grid: gridFor(o.yMajor),
          border: { display: false },
          title: { display: true, text: 'CD274 (PD-L1)', font: { family: FONT, size: o.titleSize }, color: '#000', padding: { top: o.yTitlePad, bottom: 0 } },
        },
      },
    },
    plugins: [frameBorder, makeCorPlugin(o.rText, o.pText)],
  };
}

function topDensityConfig(xs: number[], hs: number[], xMin: number, xMax: number, yMin: number, yMax: number, color: string) {
  return {
    type: 'line' as const,
    data: {
      datasets: [{
        data: xs.map((x, i) => ({ x, y: hs[i] })),
        fill: 'origin', backgroundColor: color, borderColor: '#000', borderWidth: 1,
        pointRadius: 0, cubicInterpolationMode: 'monotone' as const,
      }],
    },
    options: {
      responsive: false, animation: false as const, events: [],
      layout: { padding: 0 },
      plugins: { legend: { display: false }, tooltip: { enabled: false } },
      scales: {
        x: { type: 'linear' as const, min: xMin, max: xMax, display: false },
        y: { type: 'linear' as const, min: yMin, max: yMax, display: false },
      },
    },
  };
}

function rightDensityConfig(ys: number[], ws: number[], xMin: number, xMax: number, yMin: number, yMax: number, color: string) {
  return {
    type: 'line' as const,
    data: {
      datasets: [{
        data: ys.map((y, i) => ({ x: ws[i], y })),
        fill: 'origin', backgroundColor: color, borderColor: '#000', borderWidth: 1,
        pointRadius: 0, cubicInterpolationMode: 'monotone' as const,
      }],
    },
    options: {
      indexAxis: 'y' as const,
      responsive: false, animation: false as const, events: [],
      layout: { padding: 0 },
      plugins: { legend: { display: false }, tooltip: { enabled: false } },
      scales: {
        x: { type: 'linear' as const, min: xMin, max: xMax, display: false },
        y: { type: 'linear' as const, min: yMin, max: yMax, display: false },
      },
    },
  };
}

export default function App() {
  const aRef = useRef<HTMLCanvasElement>(null);
  const bRef = useRef<HTMLCanvasElement>(null);
  const cRef = useRef<HTMLCanvasElement>(null);
  const cTopRef = useRef<HTMLCanvasElement>(null);
  const cRightRef = useRef<HTMLCanvasElement>(null);
  const dRef = useRef<HTMLCanvasElement>(null);
  const dTopRef = useRef<HTMLCanvasElement>(null);
  const dRightRef = useRef<HTMLCanvasElement>(null);

  useEffect(() => {
    const charts: Chart[] = [];
    const lowA: BoxSet = { min: aLowMin, q1: aLowQ1, med: aLowMed, q3: aLowQ3, max: aLowMax, color: LOW_COLOR, offset: -0.125 };
    const highA: BoxSet = { min: aHighMin, q1: aHighQ1, med: aHighMed, q3: aHighQ3, max: aHighMax, color: HIGH_COLOR, offset: 0.125 };
    const lowB: BoxSet = { min: bLowMin, q1: bLowQ1, med: bLowMed, q3: bLowQ3, max: bLowMax, color: LOW_COLOR, offset: -0.125 };
    const highB: BoxSet = { min: bHighMin, q1: bHighQ1, med: bHighMed, q3: bHighQ3, max: bHighMax, color: HIGH_COLOR, offset: 0.125 };

    charts.push(new Chart(aRef.current!, boxConfig({
      sets: [lowA, highA], sigY: aSigY, legendLeft: 252, legendY: 77, yTicks: aYTicks,
      xMin: -0.592, xMax: 7.355, yMin: -0.7, yMax: 15.25,
      padding: { left: 0, top: 100, right: 34, bottom: 7 }, yWidth: 49,
    }) as any));
    charts.push(new Chart(bRef.current!, boxConfig({
      sets: [lowB, highB], sigY: bSigY, legendLeft: 270, legendY: 49, yTicks: bYTicks,
      xMin: -0.592, xMax: 7.6, yMin: -0.648, yMax: 14.35,
      padding: { left: 17, top: 71, right: 5, bottom: 8 }, yWidth: 49,
    }) as any));

    charts.push(new Chart(cRef.current!, scatterConfig({
      pts: cPts, fitX: cFitX, fitY: cFitY, bandX: cBandX, bandLo: cBandLo, bandHi: cBandHi,
      xMin: 11.483, xMax: 15.129, yMin: 3.4, yMax: 12.341, xStep: 0.5, xMajor: 1, yStep: 1, yMajor: 2,
      yFmt: (v) => String(Math.round(v)),
      padding: { left: 0, top: 9, right: 6, bottom: 0 }, yWidth: 49, xHeight: 45, tickSize: 13, titleSize: 17,
      yTitlePad: 3, xTitlePad: 3, rText: '0.48,', pText: '1.55e-35',
    }) as any));
    charts.push(new Chart(cTopRef.current!, topDensityConfig(cTopX, cTopH, 11.483, 15.129, -0.018, 1.11, '#FFA500') as any));
    charts.push(new Chart(cRightRef.current!, rightDensityConfig(cRightY, cRightW, -0.035, 1.052, 3.4, 12.341, '#0000FF') as any));

    charts.push(new Chart(dRef.current!, scatterConfig({
      pts: dPts, fitX: dFitX, fitY: dFitY, bandX: dBandX, bandLo: dBandLo, bandHi: dBandHi,
      xMin: 8.842, xMax: 13.928, yMin: -0.493, yMax: 10.78, xStep: 0.5, xMajor: 1, yStep: 1.25, yMajor: 2.5,
      yFmt: (v) => v.toFixed(1),
      padding: { left: 0, top: 10, right: 4, bottom: 0 }, yWidth: 71, xHeight: 41, tickSize: 14, titleSize: 17.5,
      yTitlePad: 13.8, xTitlePad: 0, rText: '0.49', pText: '8.92e-41',
    }) as any));
    charts.push(new Chart(dTopRef.current!, topDensityConfig(dTopX, dTopH, 8.842, 13.928, -0.009, 1.112, '#FFA500') as any));
    charts.push(new Chart(dRightRef.current!, rightDensityConfig(dRightY, dRightW, -0.036, 1.085, -0.493, 10.78, '#0000FF') as any));

    return () => charts.forEach((c) => c.destroy());
  }, []);

  const abs = (left: number, top: number): React.CSSProperties => ({ position: 'absolute', left, top });
  const label = (left: number, top: number, size: number): React.CSSProperties => ({
    position: 'absolute', left, top, fontFamily: FONT, fontWeight: 'bold', fontSize: size, lineHeight: `${size}px`, color: '#000',
  });

  return (
    <div style={{ position: 'absolute', left: 0, top: 0, width: 1325, height: 1136, background: '#fff', overflow: 'hidden' }}>
      <canvas ref={aRef} width={660} height={480} style={abs(0, 0)} />
      <canvas ref={bRef} width={665} height={480} style={abs(660, 0)} />
      <canvas ref={cTopRef} width={425} height={86} style={abs(139, 580)} />
      <canvas ref={cRightRef} width={84} height={422} style={abs(566, 669)} />
      <canvas ref={cRef} width={480} height={476} style={abs(90, 660)} />
      <canvas ref={dTopRef} width={415} height={86} style={abs(811, 580)} />
      <canvas ref={dRightRef} width={84} height={425} style={abs(1227, 670)} />
      <canvas ref={dRef} width={490} height={476} style={abs(740, 660)} />
      <div style={label(6, 4, 17)}>A</div>
      <div style={label(681, 4, 17)}>B</div>
      <div style={label(101, 557, 19)}>C</div>
      <div style={label(776, 557, 19)}>D</div>
    </div>
  );
}
